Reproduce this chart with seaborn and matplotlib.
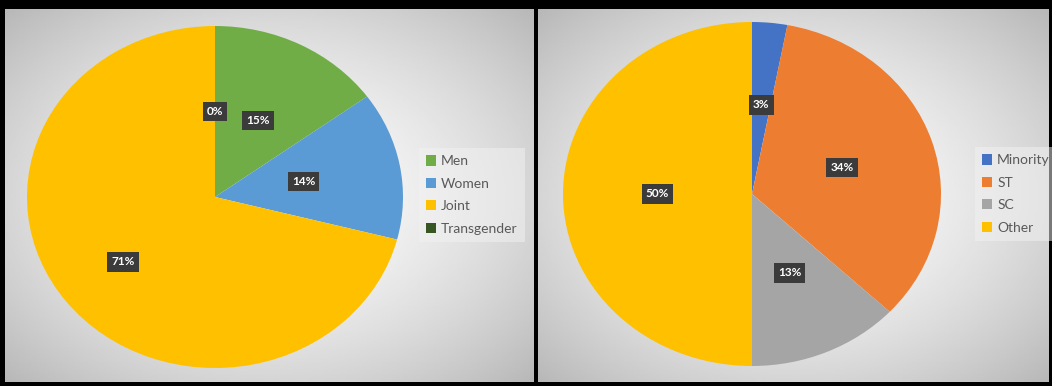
import numpy as np
import matplotlib.pyplot as plt
import seaborn as sns

# left pie: household ownership by gender
gender_labels = ['Men', 'Women', 'Joint', 'Transgender']
gender_share = [15, 14, 71, 0]
gender_colors = ['#70AD47', '#5B9BD5', '#FFC000', '#375623']

# right pie: social category
caste_labels = ['Minority', 'ST', 'SC', 'Other']
caste_share = [3, 34, 13, 50]
caste_colors = ['#4472C4', '#ED7D31', '#A5A5A5', '#FFC000']

sns.set_style('white')
plt.rcParams['font.family'] = ['Lato', 'DejaVu Sans']

W, H = 1052, 386
fig = plt.figure(figsize=(W / 100, H / 100), dpi=100, facecolor='black')


def px_rect(x0, y0, x1, y1):
    # pixel box (top-left origin) -> figure fraction rect
    return [x0 / W, 1 - y1 / H, (x1 - x0) / W, (y1 - y0) / H]


def gradient_panel(rect):
    ax = fig.add_axes(rect)
    yy, xx = np.mgrid[-1:1:200j, -1:1:300j]
    r = np.sqrt(xx ** 2 + yy ** 2) / np.sqrt(2)
    shade = 0.99 - 0.27 * r ** 1.6
    ax.imshow(shade, cmap='gray', vmin=0, vmax=1, aspect='auto',
              interpolation='bilinear', extent=[0, 1, 0, 1])
    ax.set_axis_off()
    return ax


def draw_pie(rect, values, colors, dists):
    ax = fig.add_axes(rect)
    ax.set_axis_off()
    wedges, _ = ax.pie(values, colors=colors, startangle=90, counterclock=False,
                       wedgeprops=dict(linewidth=0))
    for w, v, d in zip(wedges, values, dists):
        ang = np.deg2rad((w.theta1 + w.theta2) / 2)
        ax.text(d * np.cos(ang), d * np.sin(ang), f'{v}%', ha='center', va='center',
                color='white', fontsize=8.5, fontweight='bold',
                bbox=dict(boxstyle='square,pad=0.35', fc='#3b3b3b', ec='none'))
    ax.set_xlim(-1, 1)
    ax.set_ylim(-1, 1)
    ax.set_aspect('auto')
    return wedges


gradient_panel(px_rect(5, 9, 534, 382))
gradient_panel(px_rect(538, 9, 1049, 382))

w1 = draw_pie(px_rect(27, 26, 403, 368), gender_share, gender_colors, [0.5, 0.48, 0.62, 0.5])
w2 = draw_pie(px_rect(563, 22, 941, 366), caste_share, caste_colors, [0.52, 0.5, 0.5, 0.5])

legend_kw = dict(loc='center left', frameon=True, fontsize=10, labelcolor='#595959',
                 handlelength=0.75, handleheight=0.75, handletextpad=0.35,
                 labelspacing=0.75, borderpad=0.5, fancybox=False, framealpha=0.5,
                 facecolor='#f2f2f2', edgecolor='none')
fig.legend(w1, gender_labels, bbox_to_anchor=(412 / W, 1 - 195 / H), **legend_kw)
fig.legend(w2, caste_labels, bbox_to_anchor=(968 / W, 1 - 194 / H), **legend_kw)

fig.savefig('out.png', dpi=100, facecolor='black')
